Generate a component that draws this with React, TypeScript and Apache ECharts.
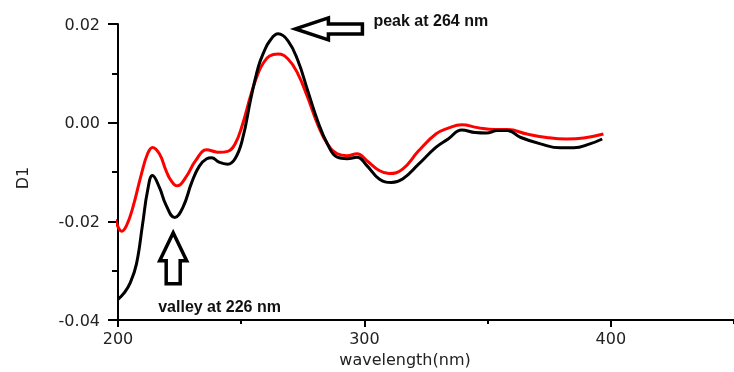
import React, { useEffect, useRef } from "react";
import * as echarts from "echarts";

// Black trace (wavelength nm, first derivative D1)
const blackWavelength = [200, 202.5, 205, 207.5, 210, 212, 214, 216.8, 219.5, 223, 226.3, 230, 233, 236, 238, 241, 244.5, 247.5, 250.5, 254, 257, 259, 261.5, 265, 269, 273, 277, 281, 285, 289, 293, 297, 301, 306, 311, 315.5, 322, 329, 334, 339.5, 345, 349.5, 354, 358, 363.5, 371.5, 379.5, 385, 391.5, 396.5];
const blackD1 = [-0.0358, -0.0345, -0.0324, -0.0286, -0.0205, -0.0138, -0.0107, -0.0131, -0.0167, -0.0192, -0.0172, -0.012, -0.0088, -0.0073, -0.0071, -0.008, -0.0084, -0.0073, -0.0034, 0.0051, 0.0114, 0.0141, 0.0165, 0.018, 0.0166, 0.0126, 0.0065, 0.0004, -0.0043, -0.007, -0.0073, -0.007, -0.0087, -0.0114, -0.0121, -0.0114, -0.0084, -0.005, -0.0033, -0.0015, -0.002, -0.0021, -0.0016, -0.0016, -0.003, -0.0043, -0.0051, -0.0051, -0.0043, -0.0033];

// Red trace
const redWavelength = [199, 201.5, 203.5, 206, 209.5, 212, 214, 216.8, 219.5, 221.5, 224, 227.5, 231.5, 236, 239.5, 241, 244.5, 247.5, 250.5, 254, 257, 259, 261.5, 265, 269, 273, 277, 281, 285, 289, 293, 297, 301, 306, 310, 315.5, 322, 329, 334, 339.5, 346, 353, 358, 366, 374, 382, 389, 397];
const redD1 = [-0.0196, -0.022, -0.0208, -0.0172, -0.0104, -0.0063, -0.005, -0.0063, -0.0097, -0.0117, -0.0128, -0.0111, -0.0077, -0.0055, -0.0059, -0.006, -0.0058, -0.0043, -0.0004, 0.0058, 0.0102, 0.0121, 0.0135, 0.0139, 0.0129, 0.0099, 0.0051, -0.0003, -0.0043, -0.0063, -0.0067, -0.0063, -0.0077, -0.0097, -0.0103, -0.0094, -0.0057, -0.0023, -0.0011, -0.0004, -0.001, -0.0014, -0.0014, -0.0023, -0.003, -0.0033, -0.0031, -0.0023];

// Annotation anchors (data coordinates)
const peakLabel = "peak at 264 nm";
const valleyLabel = "valley at 226 nm";
const peakArrowTip = [272, 0.019];
const valleyArrowTip = [222.4, -0.0223];

const zip = (xs: number[], ys: number[]) => xs.map((x, i) => [x, ys[i]]);

export default function App() {
  const ref = useRef<HTMLDivElement>(null);
  useEffect(() => {
    const chart = echarts.init(ref.current!, null, { renderer: "svg" });
    const labelStyle = { fontFamily: "DejaVu Sans", fontSize: 16, color: "#222" };
    chart.setOption({
      animation: false,
      grid: { left: 118, right: -9, top: 24, bottom: 51.5, containLabel: false },
      xAxis: [
        {
          type: "value",
          min: 200,
          max: 450,
          interval: 100,
          name: "wavelength(nm)",
          nameLocation: "middle",
          nameGap: 29,
          nameTextStyle: { ...labelStyle, padding: [0, 42, 0, 0] },
          axisLine: { show: true, onZero: false, lineStyle: { color: "#000", width: 2 } },
          axisTick: { show: true, length: 7, lineStyle: { color: "#000", width: 2 } },
          axisLabel: { ...labelStyle, margin: 10, showMaxLabel: false, formatter: (v: number) => String(v) },
          splitLine: { show: false },
        },
        {
          type: "value",
          min: 200,
          max: 450,
          interval: 50,
          position: "bottom",
          axisLine: { show: false, onZero: false },
          axisTick: { show: true, length: 4, lineStyle: { color: "#000", width: 2 } },
          axisLabel: { show: false },
          splitLine: { show: false },
        },
      ],
      yAxis: {
        type: "value",
        min: -0.04,
        max: 0.02,
        interval: 0.02,
        name: "D1",
        nameLocation: "middle",
        nameGap: 88,
        nameTextStyle: { ...labelStyle, padding: [0, 12, 0, 0] },
        axisLine: { show: true, onZero: false, lineStyle: { color: "#000", width: 2 } },
        axisTick: { show: true, length: 10, lineStyle: { color: "#000", width: 2 } },
        minorTick: { show: true, splitNumber: 2, length: 6, lineStyle: { color: "#000", width: 2 } },
        axisLabel: { ...labelStyle, margin: 18, formatter: (v: number) => v.toFixed(2) },
        splitLine: { show: false },
        minorSplitLine: { show: false },
      },
      series: [
        {
          type: "line",
          xAxisIndex: 0,
          data: zip(redWavelength, redD1),
          smooth: 0.45,
          showSymbol: false,
          clip: false,
          lineStyle: { color: "#ff0000", width: 3 },
        },
        {
          type: "line",
          xAxisIndex: 0,
          data: zip(blackWavelength, blackD1),
          smooth: 0.45,
          showSymbol: false,
          clip: false,
          lineStyle: { color: "#000", width: 3 },
        },
      ],
    });

    const p = chart.convertToPixel({ seriesIndex: 0 }, peakArrowTip) as number[];
    const v = chart.convertToPixel({ seriesIndex: 0 }, valleyArrowTip) as number[];
    const annFont = { fontFamily: "Liberation Sans, Arial", fontWeight: "bold", fontSize: 16, fill: "#111" };
    chart.setOption({
      graphic: [
        {
          type: "polygon",
          x: p[0],
          y: p[1],
          shape: { points: [[0, 0], [33, -11], [33, -5], [67, -5], [67, 5], [33, 5], [33, 11]] },
          style: { fill: "#fff", stroke: "#000", lineWidth: 3.5, lineJoin: "miter" },
        },
        {
          type: "text",
          x: p[0] + 78,
          y: p[1] - 8,
          style: { text: peakLabel, ...annFont, verticalAlign: "middle" },
        },
        {
          type: "polygon",
          x: v[0],
          y: v[1],
          shape: { points: [[0, 0], [13.5, 28], [7, 28], [7, 51], [-7, 51], [-7, 28], [-13.5, 28]] },
          style: { fill: "#fff", stroke: "#000", lineWidth: 3.5, lineJoin: "miter" },
        },
        {
          type: "text",
          x: v[0] - 15,
          y: v[1] + 74,
          style: { text: valleyLabel, ...annFont, verticalAlign: "middle" },
        },
      ],
    });
    return () => chart.dispose();
  }, []);
  return <div ref={ref} style={{ position: "fixed", left: 0, top: 0, width: 734, height: 372 }} />;
}
